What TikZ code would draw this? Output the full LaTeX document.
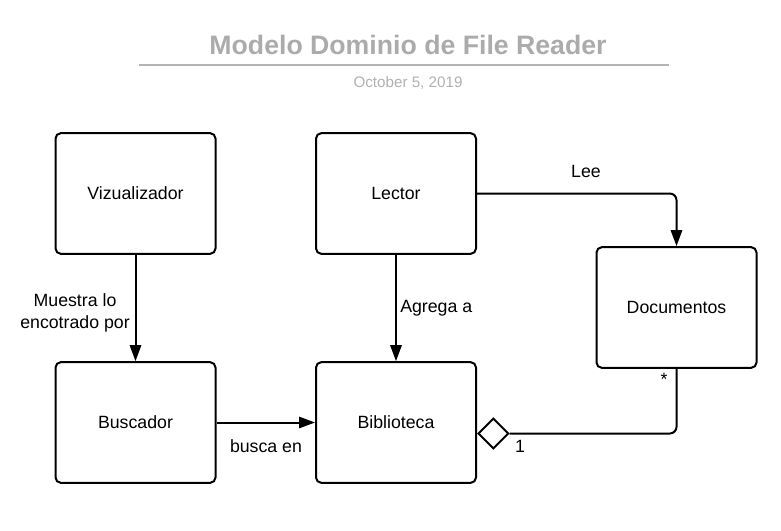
\documentclass[tikz,border=0pt]{standalone}
\usepackage{fontspec}
\setmainfont{Liberation Sans}
\usetikzlibrary{arrows.meta,shapes.geometric}
\definecolor{titlegray}{HTML}{ABABAB}
\definecolor{rulegray}{HTML}{B3B3B3}
\definecolor{dategray}{HTML}{B0B0B0}
\begin{document}
\begin{tikzpicture}[x=0.75pt,y=-0.75pt,
  cls/.style={draw=black,line width=1.5pt,rounded corners=4pt,minimum width=120pt,minimum height=90.5pt,inner sep=0pt,font=\fontsize{13.3}{16}\selectfont,align=center},
  conn/.style={line width=1.5pt,draw=black,-{Triangle[length=12pt,width=8.5pt]}},
  plain/.style={line width=1.5pt,draw=black},
  lbl/.style={font=\fontsize{13.3}{16.5}\selectfont,inner sep=0pt,align=center},
  agg/.style={draw=black,line width=1.5pt,diamond,fill=white,inner sep=0pt,minimum width=23pt,minimum height=23pt}
]
\useasboundingbox (0,0) rectangle (781,531);
% title
\node[font=\fontsize{20}{23}\selectfont\bfseries,text=titlegray,inner sep=0pt] (title) at (408,45) {Modelo Dominio de File Reader};
\coordinate (ruleL) at (139,65);
\coordinate (ruleR) at (669,65);
\draw[rulegray,line width=1.5pt] (ruleL) -- (ruleR);
\node[font=\fontsize{11.4}{13}\selectfont,text=dategray,inner sep=0pt] (date) at (408,83) {October 5, 2019};
% classes
\node[cls] (viz) at (135.5,193.5) {Vizualizador};
\node[cls] (lector) at (396,193.5) {Lector};
\node[cls] (docs) at (676.5,307.5) {Documentos};
\node[cls] (busc) at (135.5,422.5) {Buscador};
\node[cls] (bib) at (396,422.5) {Biblioteca};
% connectors
\draw[conn] (viz.south) -- (busc.north);
\draw[conn] (lector.south) -- (bib.north);
\draw[conn] (busc.east) -- (bib.west);
\draw[conn,rounded corners=5pt] (lector.east) -| (docs.north);
\node[agg,anchor=west] (dia) at (bib.east |- 0,433.5) {};
\draw[plain,rounded corners=5pt] (dia.east) -| (docs.south);
% labels
\node[lbl,anchor=east] (lmuestra) at (130,313) {Muestra lo\\encotrado por};
\node[lbl,anchor=west] (lagrega) at (400,308) {Agrega a};
\node[lbl] (lbusca) at (266,446) {busca en};
\node[lbl] (llee) at (586,171) {Lee};
\node[lbl] (lstar) at (664,379) {*};
\node[lbl] (lone) at (520,446) {1};
\end{tikzpicture}
\end{document}
